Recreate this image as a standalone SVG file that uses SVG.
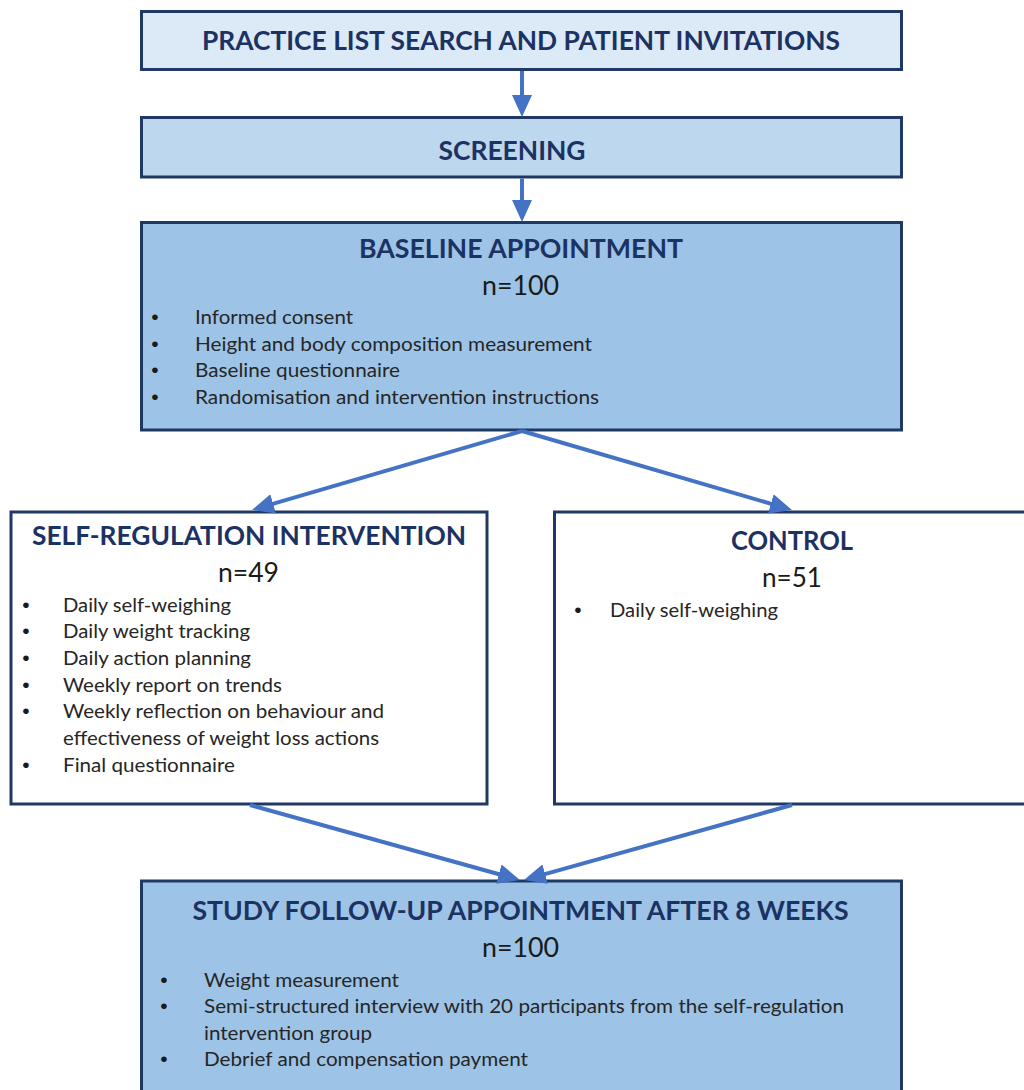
<svg xmlns="http://www.w3.org/2000/svg" width="1024" height="1090" viewBox="0 0 1024 1090">
  <defs>
    <marker id="head" markerUnits="userSpaceOnUse" markerWidth="22" markerHeight="20" refX="4" refY="10" orient="auto">
      <path d="M0,0 L22,10 L0,20 z" fill="#4472c4"/>
    </marker>
    <style>
      .box { stroke: #1f3864; stroke-width: 3; }
      .pale { fill: #dce9f6; }
      .mid { fill: #bdd7ee; }
      .deep { fill: #9dc3e6; }
      .white { fill: #ffffff; }
      .title { font-family: Lato, "Open Sans", "Liberation Sans", sans-serif; font-weight: 700; font-size: 27px; fill: #1b3262; }
      .count { font-family: Lato, "Open Sans", "Liberation Sans", sans-serif; font-size: 26px; fill: #1a1a1a; }
      .item { font-family: Lato, "Open Sans", "Liberation Sans", sans-serif; font-size: 19.5px; fill: #262626; }
      .dot { font-family: "Liberation Sans", sans-serif; font-size: 21px; fill: #1a1a1a; text-anchor: middle; }
      .link { stroke: #4472c4; stroke-width: 4; fill: none; marker-end: url(#head); }
    </style>
  </defs>

  <rect width="1024" height="1090" fill="#ffffff"/>

  <!-- Recruitment -->
  <g id="invitations">
    <rect class="box pale" x="141.5" y="11.5" width="760" height="58"/>
    <text class="title" x="202" y="50" textLength="638" lengthAdjust="spacingAndGlyphs">PRACTICE LIST SEARCH AND PATIENT INVITATIONS</text>
  </g>

  <g id="screening">
    <rect class="box mid" x="141.5" y="117.5" width="760" height="59.5"/>
    <text class="title" x="438.5" y="160" textLength="147" lengthAdjust="spacingAndGlyphs">SCREENING</text>
  </g>

  <g id="baseline">
    <rect class="box deep" x="141.5" y="222.5" width="760" height="207.5"/>
    <text class="title" x="359" y="257.5" textLength="324" lengthAdjust="spacingAndGlyphs">BASELINE APPOINTMENT</text>
    <text class="count" x="482" y="295" textLength="77" lengthAdjust="spacingAndGlyphs">n=100</text>
    <text class="dot" x="155" y="324">•</text>
    <text class="item" x="195" y="324" textLength="158" lengthAdjust="spacingAndGlyphs">Informed consent</text>
    <text class="dot" x="155" y="351">•</text>
    <text class="item" x="195" y="351" textLength="397" lengthAdjust="spacingAndGlyphs">Height and body composition measurement</text>
    <text class="dot" x="155" y="377">•</text>
    <text class="item" x="195" y="377" textLength="205" lengthAdjust="spacingAndGlyphs">Baseline questionnaire</text>
    <text class="dot" x="155" y="403.5">•</text>
    <text class="item" x="195" y="403.5" textLength="404" lengthAdjust="spacingAndGlyphs">Randomisation and intervention instructions</text>
  </g>

  <!-- Study arms -->
  <g id="intervention">
    <rect class="box white" x="11" y="512" width="476" height="292"/>
    <text class="title" x="32" y="545" textLength="434" lengthAdjust="spacingAndGlyphs">SELF-REGULATION INTERVENTION</text>
    <text class="count" x="218" y="581.5" textLength="61" lengthAdjust="spacingAndGlyphs">n=49</text>
    <text class="dot" x="26" y="611.5">•</text>
    <text class="item" x="63" y="611.5" textLength="168" lengthAdjust="spacingAndGlyphs">Daily self-weighing</text>
    <text class="dot" x="26" y="638">•</text>
    <text class="item" x="63" y="638" textLength="187" lengthAdjust="spacingAndGlyphs">Daily weight tracking</text>
    <text class="dot" x="26" y="665">•</text>
    <text class="item" x="63" y="665" textLength="188" lengthAdjust="spacingAndGlyphs">Daily action planning</text>
    <text class="dot" x="26" y="691.5">•</text>
    <text class="item" x="63" y="691.5" textLength="219" lengthAdjust="spacingAndGlyphs">Weekly report on trends</text>
    <text class="dot" x="26" y="718">•</text>
    <text class="item" x="63" y="718" textLength="321" lengthAdjust="spacingAndGlyphs">Weekly reflection on behaviour and</text>
    <text class="item" x="63" y="745" textLength="316" lengthAdjust="spacingAndGlyphs">effectiveness of weight loss actions</text>
    <text class="dot" x="26" y="771.5">•</text>
    <text class="item" x="63" y="771.5" textLength="172" lengthAdjust="spacingAndGlyphs">Final questionnaire</text>
  </g>

  <g id="control">
    <rect class="box white" x="554.5" y="512" width="480" height="292"/>
    <text class="title" x="731" y="550" textLength="122" lengthAdjust="spacingAndGlyphs">CONTROL</text>
    <text class="count" x="762" y="587" textLength="60" lengthAdjust="spacingAndGlyphs">n=51</text>
    <text class="dot" x="578" y="616.5">•</text>
    <text class="item" x="610" y="616.5" textLength="168" lengthAdjust="spacingAndGlyphs">Daily self-weighing</text>
  </g>

  <!-- Follow-up -->
  <g id="followup">
    <rect class="box deep" x="141.5" y="881" width="760" height="220"/>
    <text class="title" x="192.5" y="919.5" textLength="656" lengthAdjust="spacingAndGlyphs">STUDY FOLLOW-UP APPOINTMENT AFTER 8 WEEKS</text>
    <text class="count" x="482" y="956.5" textLength="77" lengthAdjust="spacingAndGlyphs">n=100</text>
    <text class="dot" x="164" y="986.5">•</text>
    <text class="item" x="204" y="986.5" textLength="195" lengthAdjust="spacingAndGlyphs">Weight measurement</text>
    <text class="dot" x="164" y="1013">•</text>
    <text class="item" x="204" y="1013" textLength="640" lengthAdjust="spacingAndGlyphs">Semi-structured interview with 20 participants from the self-regulation</text>
    <text class="item" x="204" y="1039.5" textLength="168" lengthAdjust="spacingAndGlyphs">intervention group</text>
    <text class="dot" x="164" y="1065.5">•</text>
    <text class="item" x="204" y="1065.5" textLength="324" lengthAdjust="spacingAndGlyphs">Debrief and compensation payment</text>
  </g>

  <!-- Flow connectors -->
  <g id="connectors">
    <line class="link" x1="522" y1="71" x2="522" y2="99"/>
    <line class="link" x1="522" y1="178.5" x2="522" y2="204"/>
    <line class="link" x1="522" y1="431" x2="269.3" y2="504.9"/>
    <line class="link" x1="522" y1="431" x2="774.7" y2="504.9"/>
    <line class="link" x1="250" y1="805" x2="502.7" y2="875.2"/>
    <line class="link" x1="792" y1="805" x2="541.3" y2="875.1"/>
  </g>
</svg>
